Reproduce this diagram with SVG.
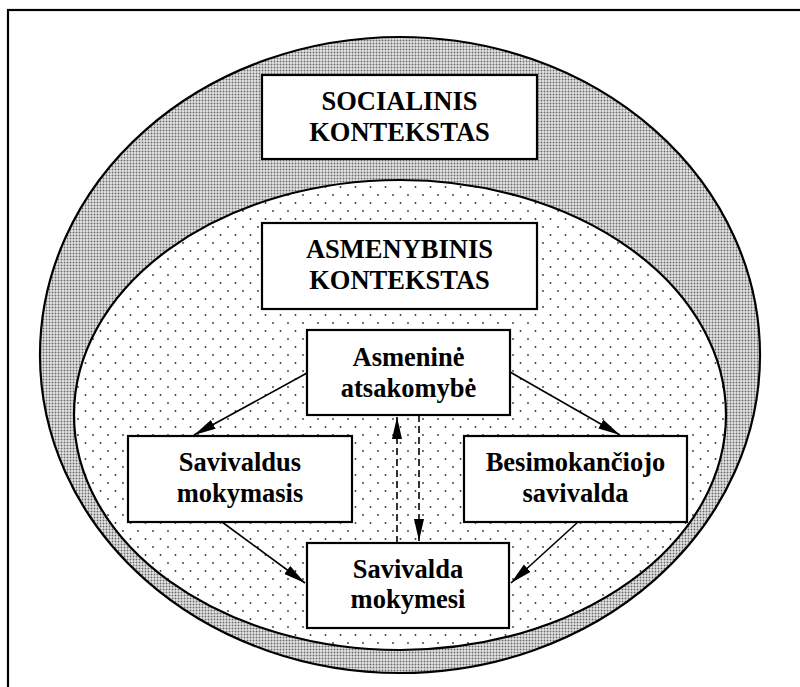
<svg xmlns="http://www.w3.org/2000/svg" width="800" height="687" viewBox="0 0 800 687">
<style>
.box{fill:#fff;stroke:#000;stroke-width:2.2}
.t{font-family:'Liberation Serif','Times New Roman',serif;font-weight:bold;font-size:26.5px;text-anchor:middle;fill:#000}
.c{stroke:#000;stroke-width:1.6;fill:none}
.d{stroke-dasharray:7 4}
</style>
<defs>
<pattern id="dense" width="3" height="3" patternUnits="userSpaceOnUse">
<rect width="3" height="3" fill="#e4e4e4"/>
<circle cx="1.5" cy="1.5" r="0.95" fill="#6a6a6a"/>
</pattern>
<pattern id="sparse" width="15" height="16" patternUnits="userSpaceOnUse">
<rect width="15" height="16" fill="#fff"/>
<circle cx="3" cy="3" r="0.9" fill="#333"/>
<circle cx="10.5" cy="11" r="0.9" fill="#333"/>
</pattern>
<marker id="ah" markerUnits="userSpaceOnUse" markerWidth="24" markerHeight="12" refX="22" refY="5" orient="auto">
<path d="M0,0 L22,5 L0,10 Z" fill="#000"/>
</marker>
</defs>
<rect x="8" y="10" width="800" height="700" fill="#fff" stroke="#000" stroke-width="2.2"/>
<ellipse cx="400" cy="355" rx="360" ry="318" fill="url(#dense)" stroke="#000" stroke-width="2.2"/>
<ellipse cx="400" cy="415" rx="326" ry="235" fill="url(#sparse)" stroke="#000" stroke-width="2.2"/>
<g id="socialinis">
<rect class="box" x="262" y="75" width="275" height="84"/>
<text class="t" x="399.5" y="110">SOCIALINIS</text>
<text class="t" x="399.5" y="141">KONTEKSTAS</text>
</g>
<g id="asmenybinis">
<rect class="box" x="262" y="223" width="275" height="86"/>
<text class="t" x="399.5" y="258">ASMENYBINIS</text>
<text class="t" x="399.5" y="289">KONTEKSTAS</text>
</g>
<g id="asmenine">
<rect class="box" x="307" y="330" width="203" height="85"/>
<text class="t" x="408.5" y="366">Asmeninė</text>
<text class="t" x="408.5" y="397">atsakomybė</text>
</g>
<g id="savivaldus">
<rect class="box" x="128" y="436" width="224" height="86"/>
<text class="t" x="240" y="471">Savivaldus</text>
<text class="t" x="240" y="502">mokymasis</text>
</g>
<g id="besimokanciojo">
<rect class="box" x="464" y="436" width="223" height="86"/>
<text class="t" x="575.5" y="471">Besimokančiojo</text>
<text class="t" x="575.5" y="502">savivalda</text>
</g>
<g id="savivalda">
<rect class="box" x="307" y="543" width="202" height="85"/>
<text class="t" x="408" y="578">Savivalda</text>
<text class="t" x="408" y="608">mokymesi</text>
</g>
<g id="connectors">
<line class="c" x1="307" y1="373" x2="194" y2="435" marker-end="url(#ah)"/>
<line class="c" x1="510" y1="372" x2="620" y2="435" marker-end="url(#ah)"/>
<line class="c" x1="222" y1="522" x2="305" y2="583" marker-end="url(#ah)"/>
<line class="c" x1="578" y1="522" x2="511" y2="583" marker-end="url(#ah)"/>
<line class="c d" x1="397" y1="543" x2="397" y2="417" marker-end="url(#ah)"/>
<line class="c d" x1="419" y1="415" x2="419" y2="541" marker-end="url(#ah)"/>
</g>
</svg>
